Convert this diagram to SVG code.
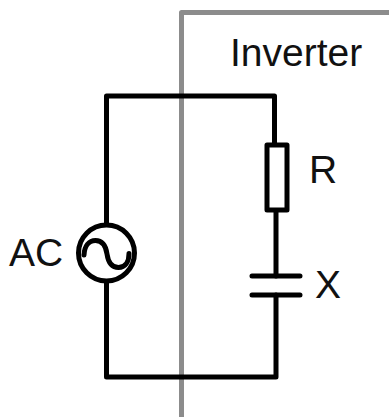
<svg xmlns="http://www.w3.org/2000/svg" width="389" height="417" viewBox="0 0 389 417">
<style>
.w{fill:none;stroke:#000;stroke-width:5;stroke-linejoin:round;stroke-linecap:round}
.t{font-family:"Liberation Sans",Arial,sans-serif;font-size:39px;fill:#111}
</style>
<rect width="389" height="417" fill="#fff"/>
<g id="inverter">
<path d="M181.500 417V12.500H389" fill="none" stroke="#8c8c8c" stroke-width="5" stroke-linejoin="round"/>
<text class="t" x="230" y="66">Inverter</text>
</g>
<g id="connectors">
<path class="w" d="M106.500 224V96H274.500V143"/>
<path class="w" d="M276 211V276"/>
<path class="w" d="M276 295V377H106.500V282"/>
</g>
<g id="ac">
<circle class="w" cx="106.500" cy="253" r="28"/>
<path class="w" d="M84 255C84.500 246 89 240.500 95.500 240.500C103 240.500 106 247 107 254C108 261 111 267.500 118.500 267.500C125 267.500 129 262 129 253.500"/>
<text class="t" x="9" y="266">AC</text>
</g>
<g id="r">
<rect class="w" x="267" y="145" width="20" height="65"/>
<text class="t" x="309" y="183">R</text>
</g>
<g id="x">
<path class="w" d="M252 276H300M252 295H300"/>
<text class="t" x="315" y="298">X</text>
</g>
</svg>
